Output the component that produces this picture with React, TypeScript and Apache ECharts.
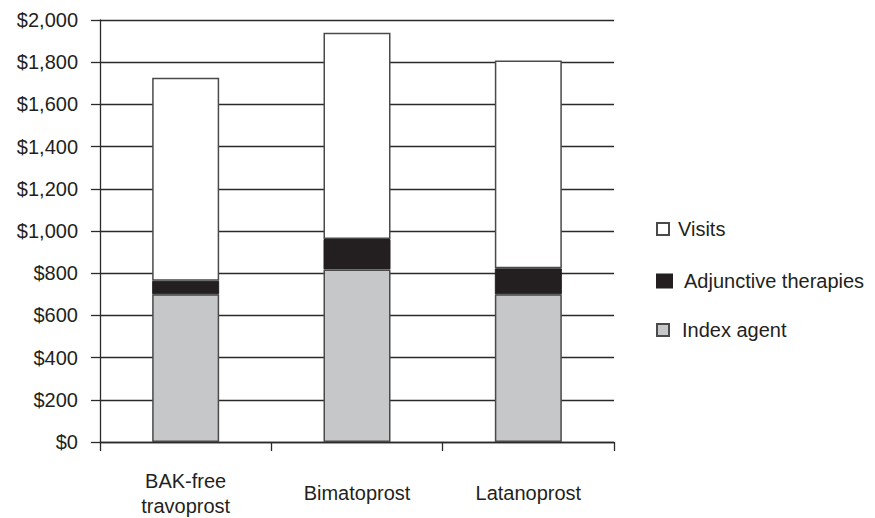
import React, { useEffect, useRef } from "react";
import * as echarts from "echarts";

const categories = ["BAK-free\ntravoprost", "Bimatoprost", "Latanoprost"];
const indexAgent = [700, 818, 700];
const adjunctive = [64, 144, 123];
const visits = [962, 978, 985];
const yTicksMax = 2000;
const yTickInterval = 200;

const TEXT = "#231f20";
const FONT = "'Liberation Sans', Arial, sans-serif";

export default function App() {
  const ref = useRef<HTMLDivElement>(null);
  useEffect(() => {
    document.body.style.margin = "0";
    const chart = echarts.init(ref.current!, null, { renderer: "svg" });
    const barBorder = { borderColor: "#4a4a4a", borderWidth: 1.5 };
    chart.setOption({
      animation: false,
      backgroundColor: "#ffffff",
      textStyle: { fontFamily: FONT, color: TEXT },
      grid: { left: 100, right: 261, top: 20, bottom: 72, containLabel: false },
      xAxis: {
        type: "category",
        data: categories,
        boundaryGap: true,
        axisLine: { show: true, lineStyle: { color: "#2a2a2a", width: 1.3 } },
        axisTick: { show: true, length: 9, alignWithLabel: false, lineStyle: { color: "#2a2a2a", width: 1.3 } },
        axisLabel: {
          color: TEXT,
          fontFamily: FONT,
          fontSize: 20,
          lineHeight: 25,
          verticalAlign: "middle",
          margin: 51,
          interval: 0,
        },
        splitLine: { show: false },
      },
      yAxis: {
        type: "value",
        min: 0,
        max: yTicksMax,
        interval: yTickInterval,
        axisLine: { show: true, lineStyle: { color: "#2a2a2a", width: 1.3 } },
        axisTick: { show: true, length: 9, lineStyle: { color: "#2a2a2a", width: 1.3 } },
        axisLabel: {
          color: TEXT,
          fontFamily: FONT,
          fontSize: 20,
          margin: 22,
          formatter: (v: number) => "$" + v.toLocaleString("en-US"),
        },
        splitLine: { show: true, lineStyle: { color: "#2a2a2a", width: 1.3 } },
      },
      legend: [
        {
          data: ["Visits"],
          left: 656,
          top: 219,
          padding: 0,
          icon: "rect",
          itemWidth: 12,
          itemHeight: 12,
          selectedMode: false,
          textStyle: { color: TEXT, fontFamily: FONT, fontSize: 20, padding: [0, 0, 0, 4] },
        },
        {
          data: ["Adjunctive therapies"],
          left: 656,
          top: 271,
          padding: 0,
          icon: "rect",
          itemWidth: 15,
          itemHeight: 13,
          selectedMode: false,
          textStyle: { color: TEXT, fontFamily: FONT, fontSize: 20, padding: [0, 0, 0, 7] },
        },
        {
          data: ["Index agent"],
          left: 656,
          top: 320,
          padding: 0,
          icon: "rect",
          itemWidth: 12,
          itemHeight: 12,
          selectedMode: false,
          textStyle: { color: TEXT, fontFamily: FONT, fontSize: 20, padding: [0, 0, 0, 8] },
        },
      ],
      series: [
        {
          name: "Index agent",
          type: "bar",
          stack: "total",
          barWidth: 67,
          data: indexAgent,
          itemStyle: { color: "#c6c7c9", ...barBorder },
        },
        {
          name: "Adjunctive therapies",
          type: "bar",
          stack: "total",
          barWidth: 67,
          data: adjunctive,
          itemStyle: { color: "#231f20", borderColor: "#231f20", borderWidth: 1 },
        },
        {
          name: "Visits",
          type: "bar",
          stack: "total",
          barWidth: 67,
          data: visits,
          itemStyle: { color: "#ffffff", ...barBorder },
        },
      ],
    });
    return () => chart.dispose();
  }, []);
  return (
    <div
      ref={ref}
      style={{ position: "absolute", left: 0, top: 0, width: 875, height: 518 }}
    />
  );
}
